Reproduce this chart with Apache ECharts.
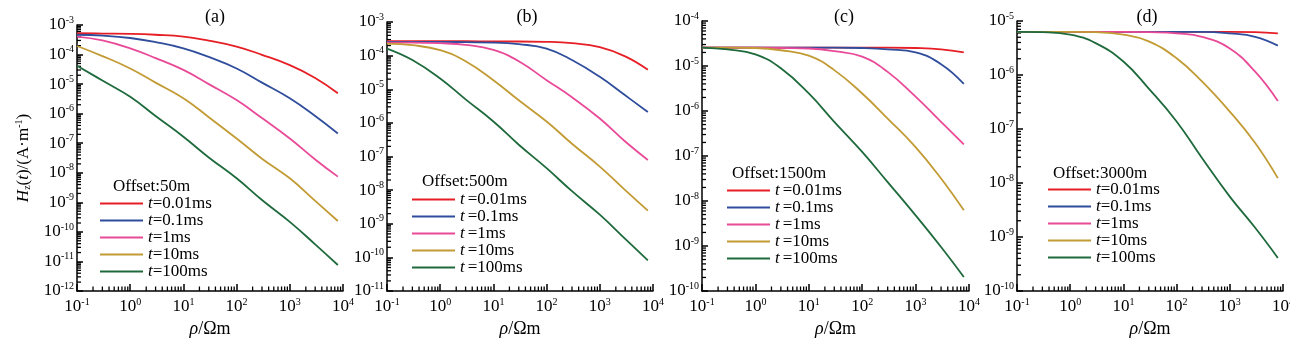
<!DOCTYPE html>
<html>
<head>
<meta charset="utf-8">
<script src="https://cdn.jsdelivr.net/npm/echarts@6/dist/echarts.min.js"></script>
<style>
  html, body { margin: 0; background: #fff; }
  #chart { width: 1290px; height: 350px; }
</style>
</head>
<body>
<div id="chart"></div>
<script>
// resistivity samples (Ωm), shared by every curve
const rho = [0.1, 0.3, 1, 3, 10, 30, 100, 300, 1000, 3000, 8000];
const timeNames = ['t=0.01ms', 't=0.1ms', 't=1ms', 't=10ms', 't=100ms'];
const colors = ['#e61e25', '#2f4d9c', '#e94a98', '#c29b34', '#1e6a3c'];
const offsets = ['Offset:50m', 'Offset:500m', 'Offset:1500m', 'Offset:3000m'];
const panelTitles = ['(a)', '(b)', '(c)', '(d)'];

// (a) offset 50m
const a_t001 = [5.25e-4, 5.13e-4, 5.01e-4, 4.68e-4, 4.07e-4, 2.95e-4, 1.86e-4, 9.8e-5, 4.37e-5, 1.62e-5, 4.9e-6];
const a_t01  = [4.68e-4, 4.37e-4, 3.63e-4, 2.63e-4, 1.62e-4, 8.3e-5, 3.39e-5, 1.12e-5, 3.31e-6, 8.3e-7, 2.14e-7];
const a_t1   = [4.07e-4, 3.02e-4, 1.62e-4, 7.6e-5, 3.02e-5, 1.0e-5, 2.88e-6, 7.1e-7, 1.45e-7, 2.82e-8, 7.4e-9];
const a_t10  = [1.95e-4, 8.9e-5, 3.39e-5, 1.12e-5, 3.31e-6, 7.6e-7, 1.45e-7, 3.0e-8, 6.5e-9, 1.12e-9, 2.34e-10];
const a_t100 = [4.2e-5, 1.32e-5, 3.72e-6, 8.3e-7, 1.66e-7, 3.3e-8, 6.5e-9, 1.2e-9, 2.19e-10, 3.8e-11, 7.6e-12];

// (b) offset 500m
const b_t001 = [2.69e-4, 2.69e-4, 2.69e-4, 2.69e-4, 2.63e-4, 2.63e-4, 2.57e-4, 2.34e-4, 1.78e-4, 9.5e-5, 3.8e-5];
const b_t01  = [2.57e-4, 2.57e-4, 2.57e-4, 2.51e-4, 2.45e-4, 2.19e-4, 1.62e-4, 7.4e-5, 2.34e-5, 6.6e-6, 2.1e-6];
const b_t1   = [2.45e-4, 2.45e-4, 2.34e-4, 2.09e-4, 1.48e-4, 6.8e-5, 1.86e-5, 5.8e-6, 1.35e-6, 2.8e-7, 7.9e-8];
const b_t10  = [2.29e-4, 2.04e-4, 1.45e-4, 6.8e-5, 1.86e-5, 4.7e-6, 1.1e-6, 2.4e-7, 5.0e-8, 1.0e-8, 2.45e-9];
const b_t100 = [1.62e-4, 7.4e-5, 2.09e-5, 5.0e-6, 1.1e-6, 2.24e-7, 4.5e-8, 9.3e-9, 1.86e-9, 3.55e-10, 8.1e-11];

// (c) offset 1500m
const c_t001 = [2.57e-5, 2.57e-5, 2.57e-5, 2.57e-5, 2.57e-5, 2.57e-5, 2.57e-5, 2.57e-5, 2.51e-5, 2.34e-5, 2.0e-5];
const c_t01  = [2.57e-5, 2.57e-5, 2.57e-5, 2.57e-5, 2.57e-5, 2.57e-5, 2.51e-5, 2.34e-5, 2.0e-5, 1.1e-5, 4.0e-6];
const c_t1   = [2.57e-5, 2.57e-5, 2.57e-5, 2.51e-5, 2.45e-5, 2.14e-5, 1.62e-5, 7.4e-6, 2.09e-6, 5.75e-7, 1.82e-7];
const c_t10  = [2.57e-5, 2.57e-5, 2.51e-5, 2.24e-5, 1.7e-5, 8.1e-6, 2.45e-6, 6.8e-7, 1.58e-7, 3.16e-8, 6.2e-9];
const c_t100 = [2.57e-5, 2.34e-5, 1.82e-5, 8.9e-6, 2.45e-6, 5.75e-7, 1.23e-7, 2.63e-8, 4.8e-9, 9.5e-10, 2.04e-10];

// (d) offset 3000m
const d_t001 = [6.3e-6, 6.3e-6, 6.3e-6, 6.3e-6, 6.3e-6, 6.3e-6, 6.3e-6, 6.3e-6, 6.3e-6, 6.2e-6, 5.9e-6];
const d_t01  = [6.3e-6, 6.3e-6, 6.3e-6, 6.3e-6, 6.3e-6, 6.3e-6, 6.3e-6, 6.3e-6, 5.9e-6, 5.1e-6, 3.5e-6];
const d_t1   = [6.3e-6, 6.3e-6, 6.3e-6, 6.3e-6, 6.3e-6, 6.2e-6, 5.9e-6, 5.1e-6, 3.1e-6, 1.15e-6, 3.3e-7];
const d_t10  = [6.3e-6, 6.3e-6, 6.3e-6, 6.2e-6, 5.6e-6, 4.2e-6, 2.04e-6, 7.6e-7, 2.1e-7, 5.5e-8, 1.23e-8];
const d_t100 = [6.3e-6, 6.2e-6, 5.6e-6, 3.9e-6, 1.78e-6, 5.6e-7, 1.38e-7, 2.9e-8, 5.6e-9, 1.48e-9, 4.1e-10];

// y-axis decade ranges per panel (exponents)
const yExp = [[-12, -3], [-11, -3], [-10, -4], [-10, -5]];

const panels = [
  [a_t001, a_t01, a_t1, a_t10, a_t100],
  [b_t001, b_t01, b_t1, b_t10, b_t100],
  [c_t001, c_t01, c_t1, c_t10, c_t100],
  [d_t001, d_t01, d_t1, d_t10, d_t100]
];

const FONT = '"Liberation Serif", "Times New Roman", serif';
const gridBoxes = [
  { left: 77, top: 25, width: 266, height: 266 },
  { left: 387, top: 22, width: 266, height: 269 },
  { left: 702, top: 21, width: 267, height: 270 },
  { left: 1017, top: 21, width: 266, height: 270 }
];
const legendPos = [[100, 195], [412, 191], [727, 182], [1048, 181]];
const offsetPos = [[113, 187], [422, 182], [732, 174], [1053, 174]];
const titlePos = [215, 527, 844, 1147];

const chart = echarts.init(document.getElementById('chart'));

const powLabel = v => '{b|10}{s|' + Math.round(Math.log10(v)) + '}';
const labelRich = {
  b: { fontFamily: FONT, fontSize: 17, color: '#000' },
  s: { fontFamily: FONT, fontSize: 10, color: '#000', padding: [0, 0, 10, 0] }
};

// decade sub-ticks 2..9 x 10^e
function minorValues(lo, hi) {
  const out = [];
  for (let e = lo; e < hi; e++) {
    for (let m = 2; m <= 9; m++) out.push(m * Math.pow(10, e));
  }
  return out;
}

const grid = [], xAxis = [], yAxis = [], legend = [], series = [], graphic = [];

panels.forEach((curves, i) => {
  grid.push(Object.assign({ outerBoundsMode: 'none' }, gridBoxes[i]));
  const yMin = Math.pow(10, yExp[i][0]), yMax = Math.pow(10, yExp[i][1]);
  xAxis.push({
    type: 'log', logBase: 10, gridIndex: i, min: 0.1, max: 10000, splitNumber: 10,
    axisLine: { lineStyle: { color: '#000', width: 1.5 } },
    axisTick: { show: true, inside: true, length: 7, lineStyle: { color: '#000', width: 1.5 } },
    axisLabel: { formatter: powLabel, rich: labelRich, margin: 6 },
    splitLine: { show: false },
    name: '{i|ρ}{n|/Ωm}', nameLocation: 'middle', nameGap: 28,
    nameTextStyle: { rich: {
      i: { fontFamily: FONT, fontSize: 18, fontStyle: 'italic', color: '#000' },
      n: { fontFamily: FONT, fontSize: 18, color: '#000' }
    } }
  });
  const yAx = {
    type: 'log', logBase: 10, gridIndex: i, min: yMin, max: yMax, splitNumber: 10,
    axisLine: { lineStyle: { color: '#000', width: 1.5 } },
    axisTick: { show: true, inside: true, length: 6, lineStyle: { color: '#000', width: 1.5 } },
    axisLabel: { formatter: powLabel, rich: labelRich, margin: 3 },
    splitLine: { show: false }
  };
  if (i === 0) {
    Object.assign(yAx, {
      name: '{i|H}{sub|z}{n|(}{i|t}{n|)/(A·m}{sup|-1}{n|)}',
      nameLocation: 'middle', nameGap: 44,
      nameTextStyle: { rich: {
        i: { fontFamily: FONT, fontSize: 17, fontStyle: 'italic', color: '#000' },
        n: { fontFamily: FONT, fontSize: 17, color: '#000' },
        sub: { fontFamily: FONT, fontSize: 10, color: '#000', padding: [8, 0, 0, 0] },
        sup: { fontFamily: FONT, fontSize: 10, color: '#000', padding: [0, 0, 9, 0] }
      } }
    });
  }
  yAxis.push(yAx);

  curves.forEach((vals, k) => {
    series.push({
      type: 'line', name: timeNames[k], xAxisIndex: i, yAxisIndex: i,
      data: rho.map((r, j) => [r, vals[j]]),
      showSymbol: false, symbol: 'none', smooth: 0.45,
      color: colors[k], lineStyle: { width: 1.8, color: colors[k] }
    });
  });

  // log minor ticks on both axes
  const tickData = minorValues(-1, 4).map(v => [v, yMin, 0])
    .concat(minorValues(yExp[i][0], yExp[i][1]).map(v => [0.1, v, 1]));
  series.push({
    type: 'custom', xAxisIndex: i, yAxisIndex: i,
    data: tickData,
    renderItem: (params, api) => {
      const p = api.coord([api.value(0), api.value(1)]);
      const vert = api.value(2) === 0;
      return {
        type: 'line',
        shape: vert ? { x1: p[0], y1: p[1], x2: p[0], y2: p[1] - 4.5 }
                    : { x1: p[0], y1: p[1], x2: p[0] + 4, y2: p[1] },
        style: { stroke: '#000', lineWidth: 1.3 }
      };
    }
  });

  const italicGap = (i === 1 || i === 2) ? 3 : 0;
  legend.push({
    data: timeNames, orient: 'vertical', left: legendPos[i][0], top: legendPos[i][1],
    icon: 'rect', itemWidth: 43, itemHeight: 2, itemGap: 0, padding: 0,
    selectedMode: false,
    formatter: name => '{i|t}{n|' + name.slice(1) + '}',
    textStyle: { fontFamily: FONT, fontSize: 17, lineHeight: 16, color: '#000', rich: {
      i: { fontFamily: FONT, fontSize: 17, fontStyle: 'italic', color: '#000', padding: [0, italicGap, 0, 0] },
      n: { fontFamily: FONT, fontSize: 17, color: '#000' }
    } }
  });

  graphic.push({
    type: 'text', x: offsetPos[i][0], y: offsetPos[i][1],
    style: { text: offsets[i], font: '17px ' + FONT, fill: '#000', textVerticalAlign: 'middle' }
  });
  graphic.push({
    type: 'text', x: titlePos[i], y: 17,
    style: { text: panelTitles[i], font: '18px ' + FONT, fill: '#000', textAlign: 'center', textVerticalAlign: 'middle' }
  });
});

chart.setOption({
  backgroundColor: '#fff',
  animation: false,
  grid, xAxis, yAxis, legend, series, graphic
});
</script>
</body>
</html>
